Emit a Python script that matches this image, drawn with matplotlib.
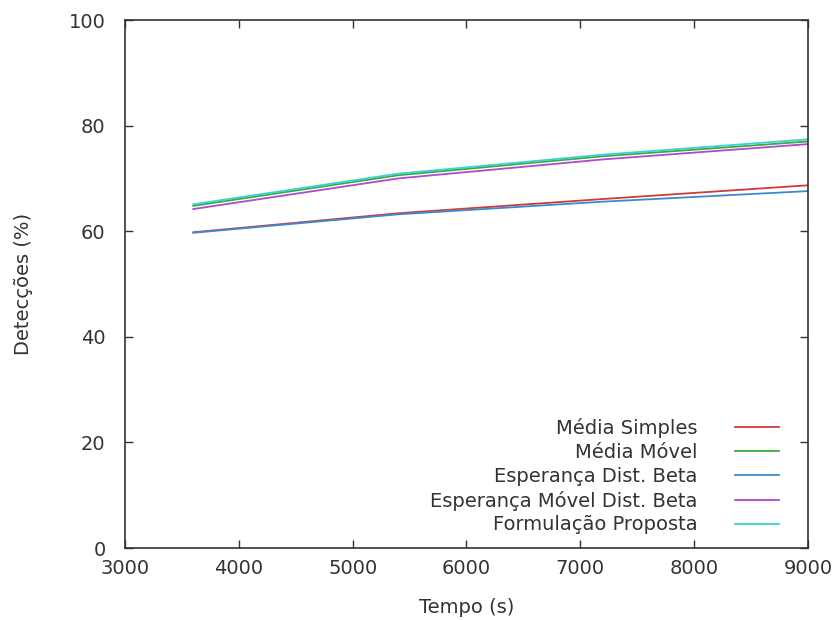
import matplotlib
matplotlib.use('Agg')
import matplotlib.pyplot as plt

# Dados
tempo = [3600, 5400, 7200, 9000]
media_simples = [59.8, 63.4, 66.1, 68.7]
media_movel = [64.8, 70.6, 74.2, 77.0]
esperanca_beta = [59.7, 63.2, 65.6, 67.6]
esperanca_movel_beta = [64.2, 70.0, 73.6, 76.5]
formulacao_proposta = [65.1, 70.9, 74.5, 77.4]

series = [
    ('Média Simples', media_simples, '#d03a3a'),
    ('Média Móvel', media_movel, '#3aaa3a'),
    ('Esperança Dist. Beta', esperanca_beta, '#3a8ad0'),
    ('Esperança Móvel Dist. Beta', esperanca_movel_beta, '#b048d0'),
    ('Formulação Proposta', formulacao_proposta, '#3ad0d8'),
]

plt.rcParams['font.family'] = 'DejaVu Sans'
fig = plt.figure(figsize=(8.36, 6.2), dpi=100)
ax = fig.add_axes([0.1495, 0.1161, 0.8170, 0.8516])

for name, vals, col in series:
    ax.plot(tempo, vals, color=col, lw=1.3, label=name)

ax.set_xlim(3000, 9000)
ax.set_ylim(0, 100)
ax.set_xticks(range(3000, 9001, 1000))
ax.set_yticks(range(0, 101, 20))
ax.tick_params(direction='in', length=6, width=1, top=True, right=True,
               labelsize=14, colors='#333333')
ax.tick_params(axis='y', pad=14)
ax.tick_params(axis='x', pad=8)
for s in ax.spines.values():
    s.set_color('#333333')
    s.set_linewidth(1.2)

ax.set_xlabel('Tempo (s)', fontsize=14, color='#333333', labelpad=14)
ax.set_ylabel('Detecções (%)', fontsize=14, color='#333333', labelpad=26)

leg = ax.legend(loc='lower right', frameon=False, markerfirst=False,
                fontsize=14, handlelength=2.3, labelspacing=0.25,
                borderaxespad=0.3, handletextpad=1.9)
for t in leg.get_texts():
    t.set_color('#333333')
    t.set_ha('right')
leg.set_bbox_to_anchor((1.0 - 15 / 683, 0.0), transform=ax.transAxes)

fig.savefig('out.png', dpi=100)
